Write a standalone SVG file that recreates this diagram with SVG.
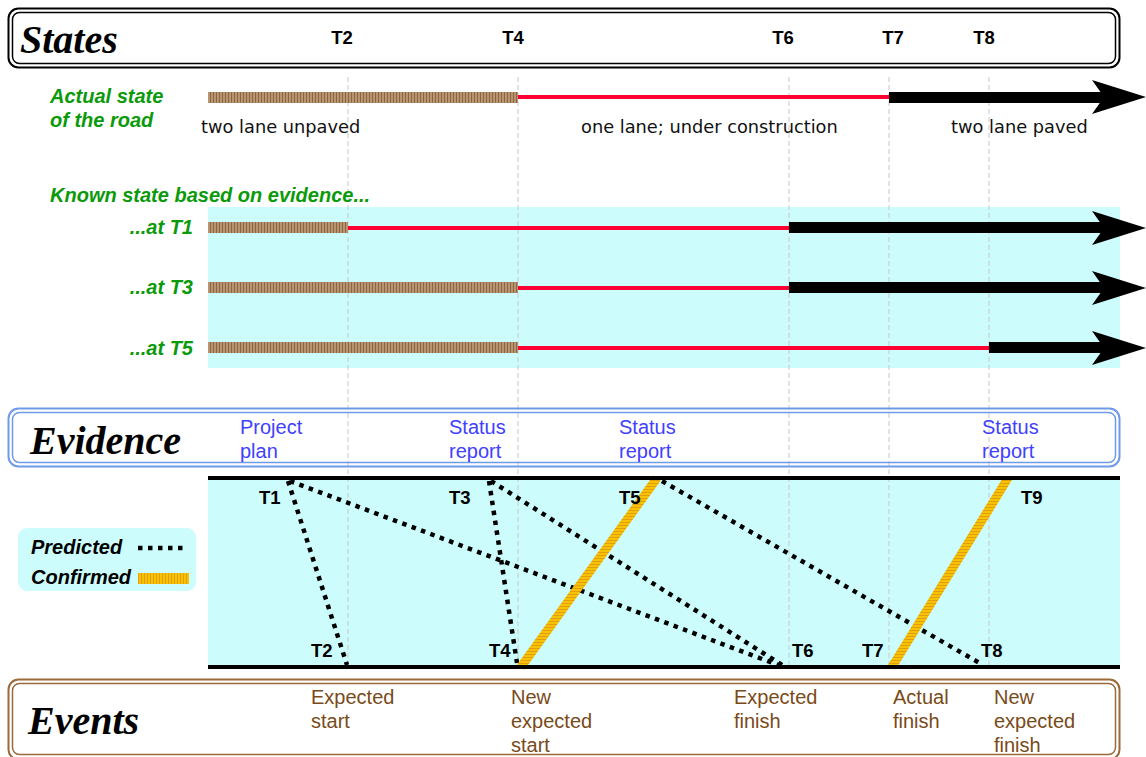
<svg xmlns="http://www.w3.org/2000/svg" width="1146" height="757" viewBox="0 0 1146 757">
<defs>
<pattern id="dirt" patternUnits="userSpaceOnUse" width="3" height="10">
<rect width="3" height="10" fill="#b89470"/>
<rect width="1" height="10" fill="#8a6644"/>
</pattern>
<pattern id="gold" patternUnits="userSpaceOnUse" width="4" height="3">
<rect width="4" height="3" fill="#f5c400"/>
<rect width="4" height="1" fill="#e89a10"/>
</pattern>
<pattern id="goldv" patternUnits="userSpaceOnUse" width="3" height="4">
<rect width="3" height="4" fill="#f5c400"/>
<rect width="1" height="4" fill="#e89a10"/>
</pattern>
<style>
.title{font-family:"Liberation Serif",serif;font-weight:bold;font-style:italic;font-size:40px;fill:#000}
.tl{font-family:"Liberation Sans",Arial,sans-serif;font-weight:bold;font-size:18.5px;fill:#000}
.green{font-family:"Liberation Sans",Arial,sans-serif;font-weight:bold;font-style:italic;font-size:20px;fill:#0a9a0a}
.comic{font-family:"DejaVu Sans",sans-serif;font-size:17.8px;fill:#111}
.blue{font-family:"Liberation Sans",Arial,sans-serif;font-size:20px;fill:#4040ff}
.brown{font-family:"Liberation Sans",Arial,sans-serif;font-size:20px;fill:#7a4a18}
.leg{font-family:"Liberation Sans",Arial,sans-serif;font-weight:bold;font-style:italic;font-size:20px;fill:#000}
.grid{stroke:#c8c8c8;stroke-width:1;stroke-dasharray:5 3;fill:none}
.dirt{fill:url(#dirt)}
.red{stroke:#ff0033;stroke-width:4}
.pave{fill:#000}
.pred{stroke:#000;stroke-width:4.5;stroke-dasharray:4.5 5.5;fill:none}
.conf{stroke:url(#gold);stroke-width:9;fill:none}
.band{fill:#ccfcfc}
</style>
</defs>

<g id="states">
<rect x="8.5" y="8.5" width="1111" height="59" rx="10" fill="none" stroke="#000" stroke-width="2"/>
<rect x="12.5" y="12.5" width="1103" height="51" rx="7" fill="none" stroke="#000" stroke-width="1.5"/>
<text class="title" x="20" y="53">States</text>
<text class="tl" x="342" y="44" text-anchor="middle">T2</text>
<text class="tl" x="513" y="44" text-anchor="middle">T4</text>
<text class="tl" x="783" y="44" text-anchor="middle">T6</text>
<text class="tl" x="893" y="44" text-anchor="middle">T7</text>
<text class="tl" x="984" y="44" text-anchor="middle">T8</text>
</g>

<g id="bands">
<rect class="band" x="208" y="207" width="912" height="161"/>
<rect class="band" x="208" y="478" width="912" height="190"/>
</g>

<g id="grid">
<line class="grid" x1="348" y1="77" x2="348" y2="668"/>
<line class="grid" x1="518" y1="77" x2="518" y2="668"/>
<line class="grid" x1="789" y1="77" x2="789" y2="668"/>
<line class="grid" x1="889" y1="77" x2="889" y2="668"/>
<line class="grid" x1="989" y1="77" x2="989" y2="668"/>
</g>

<g id="actual">
<text class="green" x="50" y="103">Actual state</text>
<text class="green" x="50" y="127">of the road</text>
<rect class="dirt" x="208" y="92" width="310" height="11"/>
<line class="red" x1="518" y1="97" x2="889" y2="97"/>
<rect class="pave" x="889" y="92" width="215" height="11"/>
<path class="pave" d="M1092,80 L1146,97 L1092,114 L1104,97 Z"/>
<text class="comic" x="201" y="133">two lane unpaved</text>
<text class="comic" x="581" y="133">one lane; under construction</text>
<text class="comic" x="951" y="133">two lane paved</text>
</g>

<g id="known">
<text class="green" x="50" y="202">Known state based on evidence...</text>
<text class="green" x="193" y="234" text-anchor="end">...at T1</text>
<rect class="dirt" x="208" y="222" width="140" height="11"/>
<line class="red" x1="348" y1="228" x2="789" y2="228"/>
<rect class="pave" x="789" y="222" width="315" height="11"/>
<path class="pave" d="M1092,211 L1146,228 L1092,245 L1104,228 Z"/>

<text class="green" x="193" y="294" text-anchor="end">...at T3</text>
<rect class="dirt" x="208" y="282" width="310" height="11"/>
<line class="red" x1="518" y1="288" x2="789" y2="288"/>
<rect class="pave" x="789" y="282" width="315" height="11"/>
<path class="pave" d="M1092,271 L1146,288 L1092,305 L1104,288 Z"/>

<text class="green" x="193" y="355" text-anchor="end">...at T5</text>
<rect class="dirt" x="208" y="342" width="310" height="11"/>
<line class="red" x1="518" y1="348" x2="989" y2="348"/>
<rect class="pave" x="989" y="342" width="115" height="11"/>
<path class="pave" d="M1092,331 L1146,348 L1092,365 L1104,348 Z"/>
</g>

<g id="evidence">
<rect x="8.5" y="408.5" width="1111" height="58" rx="10" fill="none" stroke="#6f9ae8" stroke-width="2"/>
<rect x="12.5" y="412.5" width="1103" height="50" rx="7" fill="none" stroke="#6f9ae8" stroke-width="1.5"/>
<text class="title" x="30" y="454">Evidence</text>
<text class="blue" x="240" y="434">Project</text>
<text class="blue" x="240" y="458">plan</text>
<text class="blue" x="449" y="434">Status</text>
<text class="blue" x="449" y="458">report</text>
<text class="blue" x="619" y="434">Status</text>
<text class="blue" x="619" y="458">report</text>
<text class="blue" x="982" y="434">Status</text>
<text class="blue" x="982" y="458">report</text>
</g>

<g id="connectors">
<line class="pred" x1="288" y1="481" x2="347" y2="665"/>
<line class="pred" x1="290" y1="481" x2="778" y2="665"/>
<line class="pred" x1="489" y1="481" x2="517" y2="663"/>
<line class="pred" x1="491" y1="481" x2="782" y2="665"/>
<line class="pred" x1="662" y1="481" x2="983" y2="665"/>
<line class="conf" x1="657" y1="478" x2="521" y2="667"/>
<line class="conf" x1="1008" y1="478" x2="892" y2="667"/>
</g>

<g id="rails">
<line x1="208" y1="478" x2="1120" y2="478" stroke="#000" stroke-width="4"/>
<line x1="208" y1="667" x2="1120" y2="667" stroke="#000" stroke-width="4"/>
</g>

<g id="tlabels">
<text class="tl" x="259" y="504">T1</text>
<text class="tl" x="449" y="504">T3</text>
<text class="tl" x="619" y="504">T5</text>
<text class="tl" x="1021" y="504">T9</text>
<text class="tl" x="311" y="657">T2</text>
<text class="tl" x="489" y="657">T4</text>
<text class="tl" x="792" y="657">T6</text>
<text class="tl" x="862" y="657">T7</text>
<text class="tl" x="981" y="657">T8</text>
</g>

<g id="legend">
<rect x="18" y="528" width="178" height="63" rx="9" fill="#ccfcfc"/>
<text class="leg" x="31" y="554">Predicted</text>
<line class="pred" x1="138" y1="548" x2="184" y2="548"/>
<text class="leg" x="31" y="584">Confirmed</text>
<rect x="138" y="573" width="51" height="11" fill="url(#goldv)"/>
</g>

<g id="events">
<rect x="8.5" y="679.5" width="1111" height="80" rx="10" fill="none" stroke="#9a6a3a" stroke-width="2"/>
<rect x="12.5" y="683.5" width="1103" height="71" rx="7" fill="none" stroke="#9a6a3a" stroke-width="1.5"/>
<text class="title" x="28" y="734">Events</text>
<text class="brown" x="311" y="704">Expected</text>
<text class="brown" x="311" y="728">start</text>
<text class="brown" x="511" y="704">New</text>
<text class="brown" x="511" y="728">expected</text>
<text class="brown" x="511" y="752">start</text>
<text class="brown" x="734" y="704">Expected</text>
<text class="brown" x="734" y="728">finish</text>
<text class="brown" x="893" y="704">Actual</text>
<text class="brown" x="893" y="728">finish</text>
<text class="brown" x="994" y="704">New</text>
<text class="brown" x="994" y="728">expected</text>
<text class="brown" x="994" y="752">finish</text>
</g>
</svg>
